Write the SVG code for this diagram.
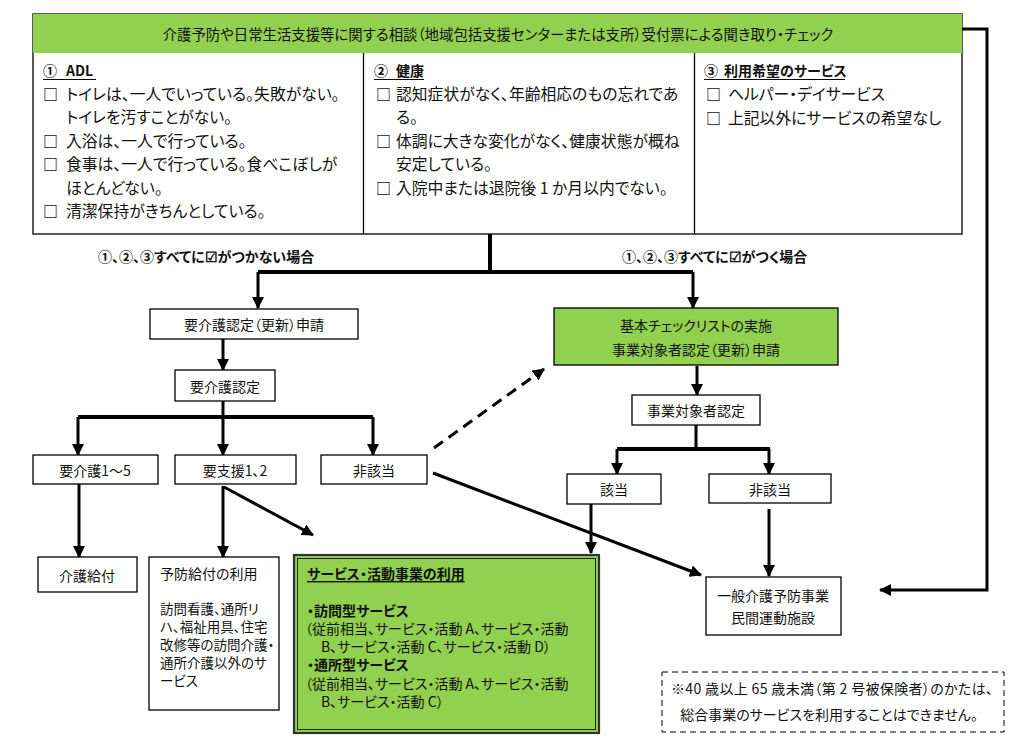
<svg xmlns="http://www.w3.org/2000/svg" width="1023" height="745" viewBox="0 0 1023 745">
  <style>
    text { font-family: "Noto Sans CJK JP", "Noto Sans", sans-serif; font-feature-settings: "palt"; fill: #111; dominant-baseline: central; }
    .t16 { font-size: 15.8px; }
    .t14 { font-size: 14px; }
    .t13 { font-size: 13.5px; }
    .chk { font-size: 15px; font-weight: bold; }
    .b { font-weight: bold; }
    .u { text-decoration: underline; }
    .mid { text-anchor: middle; }
    .ul { stroke: #000; stroke-width: 1.2; }
    .box { fill: #fff; stroke: #000; stroke-width: 1.3; }
    .green { fill: #92D050; stroke: #000; stroke-width: 1.3; }
    .line { fill: none; stroke: #000; stroke-width: 3; }
    .trunk { fill: none; stroke: #000; stroke-width: 4; }
    .dash { fill: none; stroke: #000; stroke-width: 3; stroke-dasharray: 11 7; }
  </style>
  <defs>
    <marker id="arr" markerUnits="userSpaceOnUse" markerWidth="12" markerHeight="12" refX="11" refY="6" orient="auto">
      <path d="M0,0 L12,6 L0,12 Z" fill="#000"/>
    </marker>
  </defs>

  <rect width="1023" height="745" fill="#fff"/>

  <!-- intake sheet: header and three check columns -->
  <g id="intake">
    <rect class="box" x="33" y="14" width="929" height="220"/>
    <rect x="33" y="14" width="929" height="39" fill="#92D050"/>
    <line x1="363.5" y1="53" x2="363.5" y2="234" stroke="#000" stroke-width="1.3"/>
    <line x1="694.5" y1="53" x2="694.5" y2="234" stroke="#000" stroke-width="1.3"/>
    <text x="498" y="33" class="mid" style="font-size:14.4px">介護予防や日常生活支援等に関する相談（地域包括支援センターまたは支所）受付票による聞き取り・チェック</text>
  </g>

  <g id="col-adl">
    <text class="t14 b" x="43" y="70">①<tspan x="66">ADL</tspan></text>
    <line class="ul" x1="43" y1="79.5" x2="96" y2="79.5"/>
    <g class="t16">
      <text class="chk" x="43" y="93">□</text><text x="66" y="93">トイレは、一人でいっている。失敗がない。</text>
      <text x="66" y="116">トイレを汚すことがない。</text>
      <text class="chk" x="43" y="140">□</text><text x="66" y="140">入浴は、一人で行っている。</text>
      <text class="chk" x="43" y="163">□</text><text x="66" y="163">食事は、一人で行っている。食べこぼしが</text>
      <text x="66" y="187">ほとんどない。</text>
      <text class="chk" x="43" y="210">□</text><text x="66" y="210">清潔保持がきちんとしている。</text>
    </g>
  </g>

  <g id="col-health">
    <text class="t14 b" x="374" y="70">②<tspan x="396">健康</tspan></text>
    <line class="ul" x1="374" y1="79.5" x2="424" y2="79.5"/>
    <g class="t16">
      <text class="chk" x="376" y="93">□</text><text x="396" y="93">認知症状がなく、年齢相応のもの忘れであ</text>
      <text x="396" y="116">る。</text>
      <text class="chk" x="376" y="140">□</text><text x="396" y="140">体調に大きな変化がなく、健康状態が概ね</text>
      <text x="396" y="163">安定している。</text>
      <text class="chk" x="376" y="187">□</text><text x="396" y="187">入院中または退院後 1 か月以内でない。</text>
    </g>
  </g>

  <g id="col-service">
    <text class="t14 b" x="704" y="70">③<tspan x="724">利用希望のサービス</tspan></text>
    <line class="ul" x1="704" y1="79.5" x2="845" y2="79.5"/>
    <g class="t16">
      <text class="chk" x="706" y="93">□</text><text x="728" y="93">ヘルパー・デイサービス</text>
      <text class="chk" x="706" y="117">□</text><text x="728" y="117">上記以外にサービスの希望なし</text>
    </g>
  </g>

  <!-- branch labels -->
  <g id="labels" class="t14 b">
    <text x="98" y="256">①、②、③すべてに☑がつかない場合</text>
    <text x="622" y="256">①、②、③すべてに☑がつく場合</text>
  </g>

  <!-- connectors -->
  <g id="connectors">
    <polyline class="trunk" points="490,234 490,272"/>
    <polyline class="trunk" points="258,272 693,272"/>
    <line class="line" x1="258" y1="272" x2="258" y2="308" marker-end="url(#arr)"/>
    <line class="line" x1="693" y1="272" x2="693" y2="308" marker-end="url(#arr)"/>

    <line class="line" x1="223" y1="339" x2="223" y2="370" marker-end="url(#arr)"/>
    <line class="line" x1="223" y1="401" x2="223" y2="417"/>
    <line class="trunk" x1="78" y1="417" x2="373" y2="417"/>
    <line class="line" x1="78" y1="417" x2="78" y2="455" marker-end="url(#arr)"/>
    <line class="line" x1="223" y1="417" x2="223" y2="455" marker-end="url(#arr)"/>
    <line class="line" x1="373" y1="417" x2="373" y2="455" marker-end="url(#arr)"/>

    <line class="line" x1="79" y1="484" x2="79" y2="557" marker-end="url(#arr)"/>
    <line class="line" x1="223" y1="486" x2="223" y2="557" marker-end="url(#arr)"/>
    <line class="line" x1="224" y1="487" x2="313" y2="535" marker-end="url(#arr)"/>

    <line class="dash" x1="434" y1="448" x2="544" y2="369" marker-end="url(#arr)"/>
    <line class="line" x1="433" y1="473" x2="701" y2="575" marker-end="url(#arr)"/>

    <line class="line" x1="697" y1="366" x2="697" y2="395" marker-end="url(#arr)"/>
    <line class="line" x1="696" y1="425" x2="696" y2="449"/>
    <line class="trunk" x1="617" y1="449" x2="770" y2="449"/>
    <line class="line" x1="617" y1="449" x2="617" y2="474" marker-end="url(#arr)"/>
    <line class="line" x1="769" y1="449" x2="769" y2="474" marker-end="url(#arr)"/>

    <line class="line" x1="591" y1="504" x2="591" y2="553" marker-end="url(#arr)"/>
    <line class="line" x1="769" y1="509" x2="769" y2="576" marker-end="url(#arr)"/>

    <polyline class="line" points="962,29 987,29 987,590 880,590" marker-end="url(#arr)"/>
  </g>

  <!-- care-need track -->
  <g id="n-apply">
    <rect class="box" x="150" y="309" width="208" height="30"/>
    <text class="t14 mid" x="254" y="324">要介護認定（更新）申請</text>
  </g>
  <g id="n-cert">
    <rect class="box" x="175" y="370" width="100" height="31"/>
    <text class="t14 mid" x="225" y="386">要介護認定</text>
  </g>
  <g id="n-care15">
    <rect class="box" x="33" y="455" width="125" height="29"/>
    <text class="t14 mid" x="95" y="470">要介護1～5</text>
  </g>
  <g id="n-support12">
    <rect class="box" x="175" y="455" width="121" height="29"/>
    <text class="t14 mid" x="235" y="470">要支援1、2</text>
  </g>
  <g id="n-notapp-left">
    <rect class="box" x="321" y="455" width="106" height="29"/>
    <text class="t14 mid" x="374" y="470">非該当</text>
  </g>
  <g id="n-carebenefit">
    <rect class="box" x="38" y="557" width="99" height="35"/>
    <text class="t14 mid" x="87" y="575">介護給付</text>
  </g>
  <g id="n-prevbenefit" class="t13">
    <rect class="box" x="149" y="557" width="130" height="153"/>
    <text class="t14" x="160" y="573">予防給付の利用</text>
    <text x="160" y="608">訪問看護、通所リ</text>
    <text x="160" y="626">ハ、福祉用具、住宅</text>
    <text x="160" y="644">改修等の訪問介護・</text>
    <text x="160" y="662">通所介護以外のサ</text>
    <text x="160" y="680">ービス</text>
  </g>

  <!-- checklist track -->
  <g id="n-checklist">
    <rect class="green" x="554" y="308" width="284" height="57"/>
    <text class="t14 mid" x="696" y="325">基本チェックリストの実施</text>
    <text class="t14 mid" x="696" y="349">事業対象者認定（更新）申請</text>
  </g>
  <g id="n-target">
    <rect class="box" x="632" y="395" width="128" height="30"/>
    <text class="t14 mid" x="696" y="410">事業対象者認定</text>
  </g>
  <g id="n-applicable">
    <rect class="box" x="567" y="474" width="94" height="30"/>
    <text class="t14 mid" x="614" y="489">該当</text>
  </g>
  <g id="n-notapp-right">
    <rect class="box" x="709" y="474" width="122" height="29"/>
    <text class="t14 mid" x="770" y="489">非該当</text>
  </g>
  <g id="n-services" class="t14">
    <rect x="294" y="555" width="305" height="178" fill="#92D050" stroke="#333" stroke-width="2.2"/>
    <rect x="297.5" y="558.5" width="298" height="171" fill="none" stroke="#222" stroke-width="1"/>
    <text class="b u" x="307" y="573">サービス・活動事業の利用</text>
    <text class="b" x="307" y="610">・訪問型サービス</text>
    <text x="305" y="628">（従前相当、サービス・活動 A、サービス・活動</text>
    <text x="321" y="646">B、サービス・活動 C、サービス・活動 D）</text>
    <text class="b" x="307" y="664">・通所型サービス</text>
    <text x="305" y="683">（従前相当、サービス・活動 A、サービス・活動</text>
    <text x="321" y="701">B、サービス・活動 C）</text>
  </g>
  <g id="n-general">
    <rect class="box" x="706" y="577" width="135" height="58"/>
    <text class="t14 mid" x="773" y="595">一般介護予防事業</text>
    <text class="t14 mid" x="773" y="617">民間運動施設</text>
  </g>

  <!-- note -->
  <g id="note">
    <rect x="662" y="672" width="342" height="60" fill="#fff" stroke="#000" stroke-width="1" stroke-dasharray="6 4"/>
    <text class="t14" x="671" y="688" textLength="322">※40 歳以上 65 歳未満（第 2 号被保険者）のかたは、</text>
    <text class="t14 mid" x="829" y="714">総合事業のサービスを利用することはできません。</text>
  </g>
</svg>
